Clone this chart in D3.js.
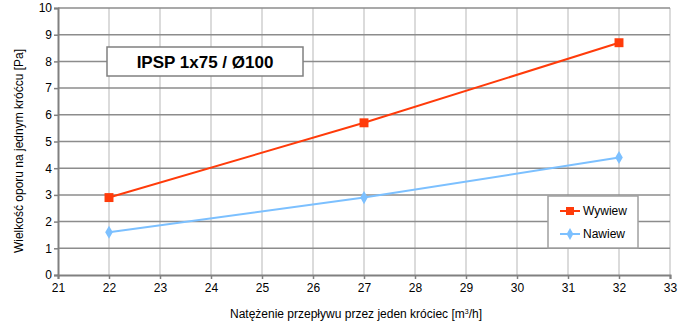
<!doctype html>
<html>
<head>
<script src="https://d3js.org/d3.v7.min.js"></script>
<style>
  body { margin: 0; background: #fff; }
  svg text { font-family: "Liberation Sans", Arial, sans-serif; fill: #000; }
</style>
</head>
<body>
<svg width="690" height="326"></svg>
<script>
// data
var flows = [22, 27, 32];
var wywiew = [2.9, 5.7, 8.7];
var nawiew = [1.6, 2.9, 4.4];
var xTicks = [21, 22, 23, 24, 25, 26, 27, 28, 29, 30, 31, 32, 33];
var yTicks = [0, 1, 2, 3, 4, 5, 6, 7, 8, 9, 10];

var svg = d3.select("svg");
var plotLeft = 58, plotRight = 670, plotTop = 8, plotBottom = 275;

var x = d3.scaleLinear().domain([21, 33]).range([plotLeft, plotRight]);
var y = d3.scaleLinear().domain([0, 10]).range([plotBottom, plotTop]);

// vertical grid (light)
svg.append("g")
  .selectAll("line")
  .data(xTicks.slice(1))
  .enter().append("line")
  .attr("x1", function (d) { return x(d); })
  .attr("x2", function (d) { return x(d); })
  .attr("y1", plotTop).attr("y2", plotBottom)
  .style("stroke", "#cfcfcf").style("stroke-width", 1.5);

// horizontal grid (darker)
svg.append("g")
  .selectAll("line")
  .data(yTicks.slice(1))
  .enter().append("line")
  .attr("x1", plotLeft).attr("x2", plotRight)
  .attr("y1", function (d) { return y(d); })
  .attr("y2", function (d) { return y(d); })
  .style("stroke", "#8c8c8c").style("stroke-width", 1.5);

// axes
var xAxis = svg.append("g")
  .attr("transform", "translate(0," + plotBottom + ")")
  .call(d3.axisBottom(x).tickValues(xTicks).tickSize(4).tickPadding(4).tickFormat(d3.format("d")));
var yAxis = svg.append("g")
  .attr("transform", "translate(" + plotLeft + ",0)")
  .call(d3.axisLeft(y).tickValues(yTicks).tickSize(4).tickPadding(2).tickFormat(d3.format("d")));
[xAxis, yAxis].forEach(function (a) {
  a.select(".domain").style("stroke", "#808080").style("stroke-width", 2);
  a.selectAll(".tick line").style("stroke", "#808080").style("stroke-width", 1.5);
  a.selectAll("text").style("font-size", "12px").style("fill", "#000")
    .style("font-family", "'Liberation Sans', Arial, sans-serif");
});

// title box
svg.append("rect")
  .attr("x", 107).attr("y", 47).attr("width", 196).attr("height", 29)
  .style("fill", "#fff").style("stroke", "#808080").style("stroke-width", 1.5);
svg.append("text")
  .attr("x", 205).attr("y", 68)
  .attr("text-anchor", "middle")
  .style("font-size", "17px").style("font-weight", "bold")
  .text("IPSP 1x75 / Ø100");

// lines
var series = [
  { name: "Wywiew", values: wywiew, color: "#ff3b0a", shape: d3.symbolSquare, size: 80 },
  { name: "Nawiew", values: nawiew, color: "#7cc0ff", shape: d3.symbolDiamond, size: 50 }
];
var line = d3.line()
  .x(function (d) { return x(d[0]); })
  .y(function (d) { return y(d[1]); });

series.forEach(function (s) {
  var pts = flows.map(function (f, i) { return [f, s.values[i]]; });
  svg.append("path")
    .datum(pts)
    .attr("d", line)
    .style("fill", "none")
    .style("stroke", s.color)
    .style("stroke-width", 2);
  svg.append("g")
    .selectAll("path")
    .data(pts)
    .enter().append("path")
    .attr("d", d3.symbol().type(s.shape).size(s.size))
    .attr("transform", function (d) { return "translate(" + x(d[0]) + "," + y(d[1]) + ")"; })
    .style("fill", s.color);
});

// legend
svg.append("rect")
  .attr("x", 548).attr("y", 196).attr("width", 90).attr("height", 52)
  .style("fill", "#fff").style("stroke", "#a0a0a0").style("stroke-width", 1.5);
series.forEach(function (s, i) {
  var ly = 211 + i * 23;
  svg.append("line")
    .attr("x1", 560).attr("x2", 580).attr("y1", ly).attr("y2", ly)
    .style("stroke", s.color).style("stroke-width", 2);
  svg.append("path")
    .attr("d", d3.symbol().type(s.shape).size(s.size * 0.8))
    .attr("transform", "translate(570," + ly + ")")
    .style("fill", s.color);
  svg.append("text")
    .attr("x", 583).attr("y", ly + 4)
    .style("font-size", "12px")
    .text(s.name);
});

// axis labels
svg.append("text")
  .attr("x", 356).attr("y", 318)
  .attr("text-anchor", "middle")
  .style("font-size", "12px")
  .html('Natężenie przepływu przez jeden króciec [m<tspan dy="-4" font-size="7">3</tspan><tspan dy="4">/h]</tspan>');
svg.append("text")
  .attr("text-anchor", "middle")
  .attr("transform", "translate(23,151)rotate(-90)")
  .style("font-size", "12px")
  .text("Wielkość oporu na jednym króćcu [Pa]");
</script>
</body>
</html>
